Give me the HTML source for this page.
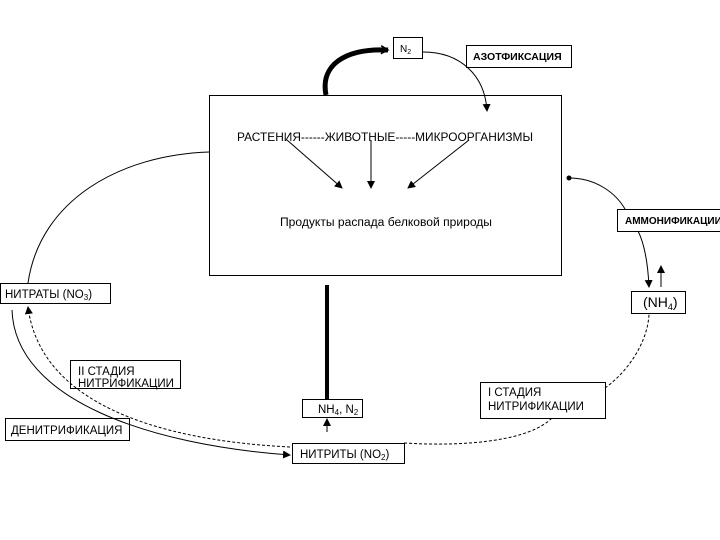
<!DOCTYPE html>
<html><head><meta charset="utf-8"><style>
html,body{margin:0;padding:0;background:#fff}
svg{display:block}
text{font-family:"Liberation Sans",sans-serif;fill:#000}
</style></head><body>
<svg width="720" height="540" viewBox="0 0 720 540" xmlns="http://www.w3.org/2000/svg">
<defs>
<marker id="a" markerWidth="8" markerHeight="8" refX="7" refY="4" orient="auto" markerUnits="userSpaceOnUse"><path d="M0,0 L8,4 L0,8 Z" fill="#000"/></marker>
<marker id="o" markerWidth="10" markerHeight="10" refX="8" refY="5" orient="auto" markerUnits="userSpaceOnUse"><path d="M1,1 L8,5 L1,9" fill="none" stroke="#000" stroke-width="1.5"/></marker>
</defs>
<g fill="none" stroke="#000" stroke-width="1">
<rect x="209.5" y="95.5" width="352" height="180"/>
<rect x="393.5" y="37.5" width="29" height="21"/>
<rect x="466.5" y="45.5" width="105" height="22"/>
<rect x="0.5" y="283.5" width="110" height="20"/>
<rect x="70.5" y="360.5" width="110" height="28"/>
<rect x="5.5" y="418.5" width="124" height="22"/>
<rect x="292.5" y="443.5" width="112" height="20"/>
<rect x="302.5" y="399.5" width="60" height="18"/>
<rect x="480.5" y="382.5" width="125" height="36"/>
<rect x="617.5" y="209.5" width="110" height="22"/>
<rect x="631.5" y="291.5" width="54" height="22"/>
<path d="M326,95 C320,65 345,48 388,50" stroke-width="5" marker-end="url(#o)"/>
<path d="M423,52 C460,52 485,75 487,111" marker-end="url(#a)"/>
<path d="M287,140 L342,188" marker-end="url(#a)"/>
<path d="M371,140 L371,188" marker-end="url(#a)"/>
<path d="M469,140 L408,188" marker-end="url(#a)"/>
<path d="M209,152 C120,155 40,200 28,283"/>
<path d="M12,310 C15,400 150,445 290,455" marker-end="url(#a)"/>
<path d="M290,447 C150,440 40,400 28,307" stroke-dasharray="3,2" marker-end="url(#a)"/>
<line x1="327" y1="285" x2="327" y2="399" stroke-width="4"/>
<path d="M327,432 L327,419" marker-end="url(#a)"/>
<path d="M404,443 C470,447 530,440 552,418" stroke-dasharray="3,2"/>
<path d="M605,388 C630,370 648,340 649,314" stroke-dasharray="3,2"/>
<path d="M569,178 C595,178 615,192 625,209"/>
<path d="M638,231 C645,245 648,265 649,287" marker-end="url(#a)"/>
<path d="M661,287 L661,266" marker-end="url(#a)"/>
</g>
<circle cx="569" cy="178" r="2.5" fill="#000"/>
<g font-size="11.5">
<text x="400" y="52" font-size="10">N<tspan font-size="7" dy="2">2</tspan></text>
<text x="473" y="60" font-weight="bold" font-size="10.5">АЗОТФИКСАЦИЯ</text>
<text x="237" y="141" font-size="11.8" textLength="296" lengthAdjust="spacingAndGlyphs">РАСТЕНИЯ------ЖИВОТНЫЕ-----МИКРООРГАНИЗМЫ</text>
<text x="280" y="226" textLength="212" lengthAdjust="spacingAndGlyphs">Продукты распада белковой природы</text>
<text x="5" y="298">НИТРАТЫ (NO<tspan font-size="8" dy="2">3</tspan><tspan dy="-2">)</tspan></text>
<text x="78" y="375">II  СТАДИЯ</text>
<text x="78" y="387">НИТРИФИКАЦИИ</text>
<text x="11" y="434">ДЕНИТРИФИКАЦИЯ</text>
<text x="300" y="458">НИТРИТЫ (NO<tspan font-size="8" dy="2">2</tspan><tspan dy="-2">)</tspan></text>
<text x="318" y="413">NH<tspan font-size="8" dy="2">4</tspan><tspan dy="-2">, N</tspan><tspan font-size="8" dy="2">2</tspan></text>
<text x="488" y="396">I  СТАДИЯ</text>
<text x="488" y="410">НИТРИФИКАЦИИ</text>
<text x="625" y="224" font-weight="bold" font-size="10">АММОНИФИКАЦИИ</text>
<text x="643" y="307" font-size="14">(NH<tspan font-size="9" dy="3">4</tspan><tspan dy="-3">)</tspan></text>
</g>
</svg>
</body></html>
